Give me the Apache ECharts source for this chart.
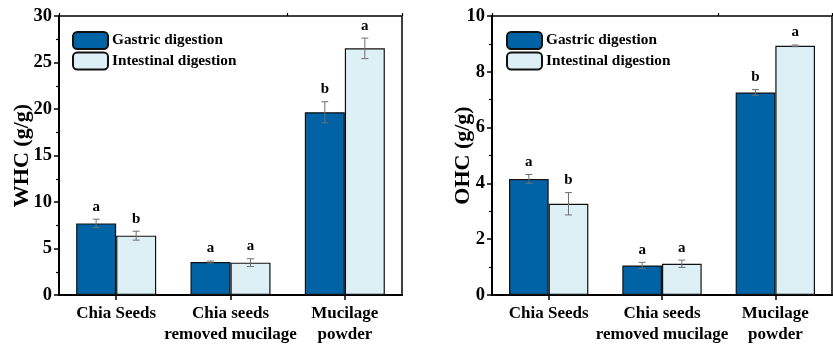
<!DOCTYPE html>
<html><head><meta charset="utf-8">
<script src="https://cdn.jsdelivr.net/npm/echarts@6/dist/echarts.min.js"></script>
<style>html,body{margin:0;padding:0;background:#fff}#c{width:833px;height:348px}</style>
</head><body><div id="c"></div>
<script>
var categories = ['Chia Seeds', 'Chia seeds\nremoved mucilage', 'Mucilage\npowder'];
var seriesNames = ['Gastric digestion', 'Intestinal digestion'];
// WHC (g/g)
var whcGastric = [7.7, 3.55, 19.65];
var whcGastricErr = [0.45, 0.1, 1.13];
var whcGastricLetters = ['a', 'a', 'b'];
var whcIntestinal = [6.38, 3.48, 26.52];
var whcIntestinalErr = [0.48, 0.42, 1.1];
var whcIntestinalLetters = ['b', 'a', 'a'];
// OHC (g/g)
var ohcGastric = [4.16, 1.06, 7.26];
var ohcGastricErr = [0.16, 0.11, 0.1];
var ohcGastricLetters = ['a', 'a', 'b'];
var ohcIntestinal = [3.27, 1.12, 8.93];
var ohcIntestinalErr = [0.4, 0.13, 0.03];
var ohcIntestinalLetters = ['b', 'a', 'a'];
var whcTicks = [0, 5, 10, 15, 20, 25, 30];
var ohcTicks = [0, 2, 4, 6, 8, 10];

var FONT = 'Liberation Serif';
var DARK = '#0063a6';
var LIGHT = '#dcf0f6';
var BAR_FRAC = 0.35;

function errData(vals, errs) {
  return vals.map(function (v, i) { return [i, v, errs[i]]; });
}
function makeRender(sign, letters) {
  return function (params, api) {
    var x = api.value(0), v = api.value(1), e = api.value(2);
    var band = api.size([1, 0])[0];
    var off = sign * band * BAR_FRAC / 2;
    var top = api.coord([x, v + e]);
    var bot = api.coord([x, v - e]);
    var cx = top[0] + off;
    var cap = 3.5;
    var st = { stroke: '#6f6f6f', lineWidth: 1 };
    return {
      type: 'group',
      children: [
        { type: 'line', shape: { x1: cx, y1: top[1], x2: cx, y2: bot[1] }, style: st },
        { type: 'line', shape: { x1: cx - cap, y1: top[1], x2: cx + cap, y2: top[1] }, style: st },
        { type: 'line', shape: { x1: cx - cap, y1: bot[1], x2: cx + cap, y2: bot[1] }, style: st },
        { type: 'text', x: cx, y: top[1] - 5, style: { text: letters[params.dataIndex], fill: '#000', fontFamily: FONT, fontWeight: 'bold', fontSize: 15, align: 'center', verticalAlign: 'bottom' } }
      ]
    };
  };
}

function yAxisDef(gi, ticks, name, gap) {
  return {
    type: 'value', gridIndex: gi, min: ticks[0], max: ticks[ticks.length - 1],
    interval: ticks[1] - ticks[0],
    name: name, nameLocation: 'middle', nameGap: gap, nameMoveOverlap: false,
    nameTextStyle: { fontFamily: FONT, fontWeight: 'bold', fontSize: 22, color: '#000' },
    axisLine: { show: true, lineStyle: { color: '#000', width: 2 } },
    axisTick: { show: true, inside: false, length: 5, lineStyle: { color: '#000', width: 1.5 } },
    minorTick: { show: true, splitNumber: 2, length: 3, lineStyle: { color: '#000', width: 1.2 } },
    splitLine: { show: false },
    axisLabel: { fontFamily: FONT, fontWeight: 'bold', fontSize: 18.5, color: '#000', margin: 7 }
  };
}
function xAxisDef(gi) {
  return {
    type: 'category', gridIndex: gi, data: categories,
    axisLine: { show: true, lineStyle: { color: '#000', width: 2 } },
    axisTick: { show: true, alignWithLabel: true, length: 5, lineStyle: { color: '#000', width: 1.5 } },
    axisLabel: { fontFamily: FONT, fontWeight: 'bold', fontSize: 17, color: '#000', margin: 8, lineHeight: 21, interval: 0 }
  };
}
function xMinorDef(gi) {
  return {
    type: 'category', gridIndex: gi, data: categories,
    axisLine: { show: false },
    axisTick: { show: true, alignWithLabel: false, length: 3, lineStyle: { color: '#000', width: 1.2 } },
    axisLabel: { show: false }
  };
}
function barDef(name, data, color, xi, yi) {
  return {
    type: 'bar', name: name, data: data, xAxisIndex: xi, yAxisIndex: yi,
    barWidth: (BAR_FRAC * 100) + '%', barGap: '0%',
    itemStyle: { color: color, borderColor: '#111', borderWidth: 1.2 },
    emphasis: { disabled: true }
  };
}
function errDef(vals, errs, sign, letters, xi, yi) {
  return {
    type: 'custom', xAxisIndex: xi, yAxisIndex: yi, data: errData(vals, errs),
    encode: { x: 0, y: 1 }, renderItem: makeRender(sign, letters), clip: false, z: 5, silent: true
  };
}
function legendDef(left) {
  return {
    left: left, top: 31, orient: 'vertical', itemWidth: 35, itemHeight: 17, itemGap: 1.5, padding: 0,
    data: seriesNames, selectedMode: false,
    textStyle: { fontFamily: FONT, fontWeight: 'bold', fontSize: 15.3, color: '#000', padding: [0, 0, 0, -1] }
  };
}

var chart = echarts.init(document.getElementById('c'), null, { renderer: 'canvas' });
chart.setOption({
  animation: false,
  backgroundColor: '#fff',
  textStyle: { fontFamily: FONT },
  legend: [legendDef(72), legendDef(506)],
  grid: [
    { left: 59, top: 16, width: 343, height: 279, show: true, borderColor: '#000', borderWidth: 1.5, backgroundColor: 'transparent' },
    { left: 492, top: 16, width: 340, height: 279, show: true, borderColor: '#000', borderWidth: 1.5, backgroundColor: 'transparent' }
  ],
  xAxis: [xAxisDef(0), xAxisDef(1), xMinorDef(0), xMinorDef(1)],
  yAxis: [yAxisDef(0, whcTicks, 'WHC (g/g)', 26), yAxisDef(1, ohcTicks, 'OHC (g/g)', 18)],
  series: [
    barDef(seriesNames[0], whcGastric, DARK, 0, 0),
    barDef(seriesNames[1], whcIntestinal, LIGHT, 0, 0),
    barDef(seriesNames[0], ohcGastric, DARK, 1, 1),
    barDef(seriesNames[1], ohcIntestinal, LIGHT, 1, 1),
    errDef(whcGastric, whcGastricErr, -1, whcGastricLetters, 0, 0),
    errDef(whcIntestinal, whcIntestinalErr, 1, whcIntestinalLetters, 0, 0),
    errDef(ohcGastric, ohcGastricErr, -1, ohcGastricLetters, 1, 1),
    errDef(ohcIntestinal, ohcIntestinalErr, 1, ohcIntestinalLetters, 1, 1)
  ]
});
</script></body></html>
